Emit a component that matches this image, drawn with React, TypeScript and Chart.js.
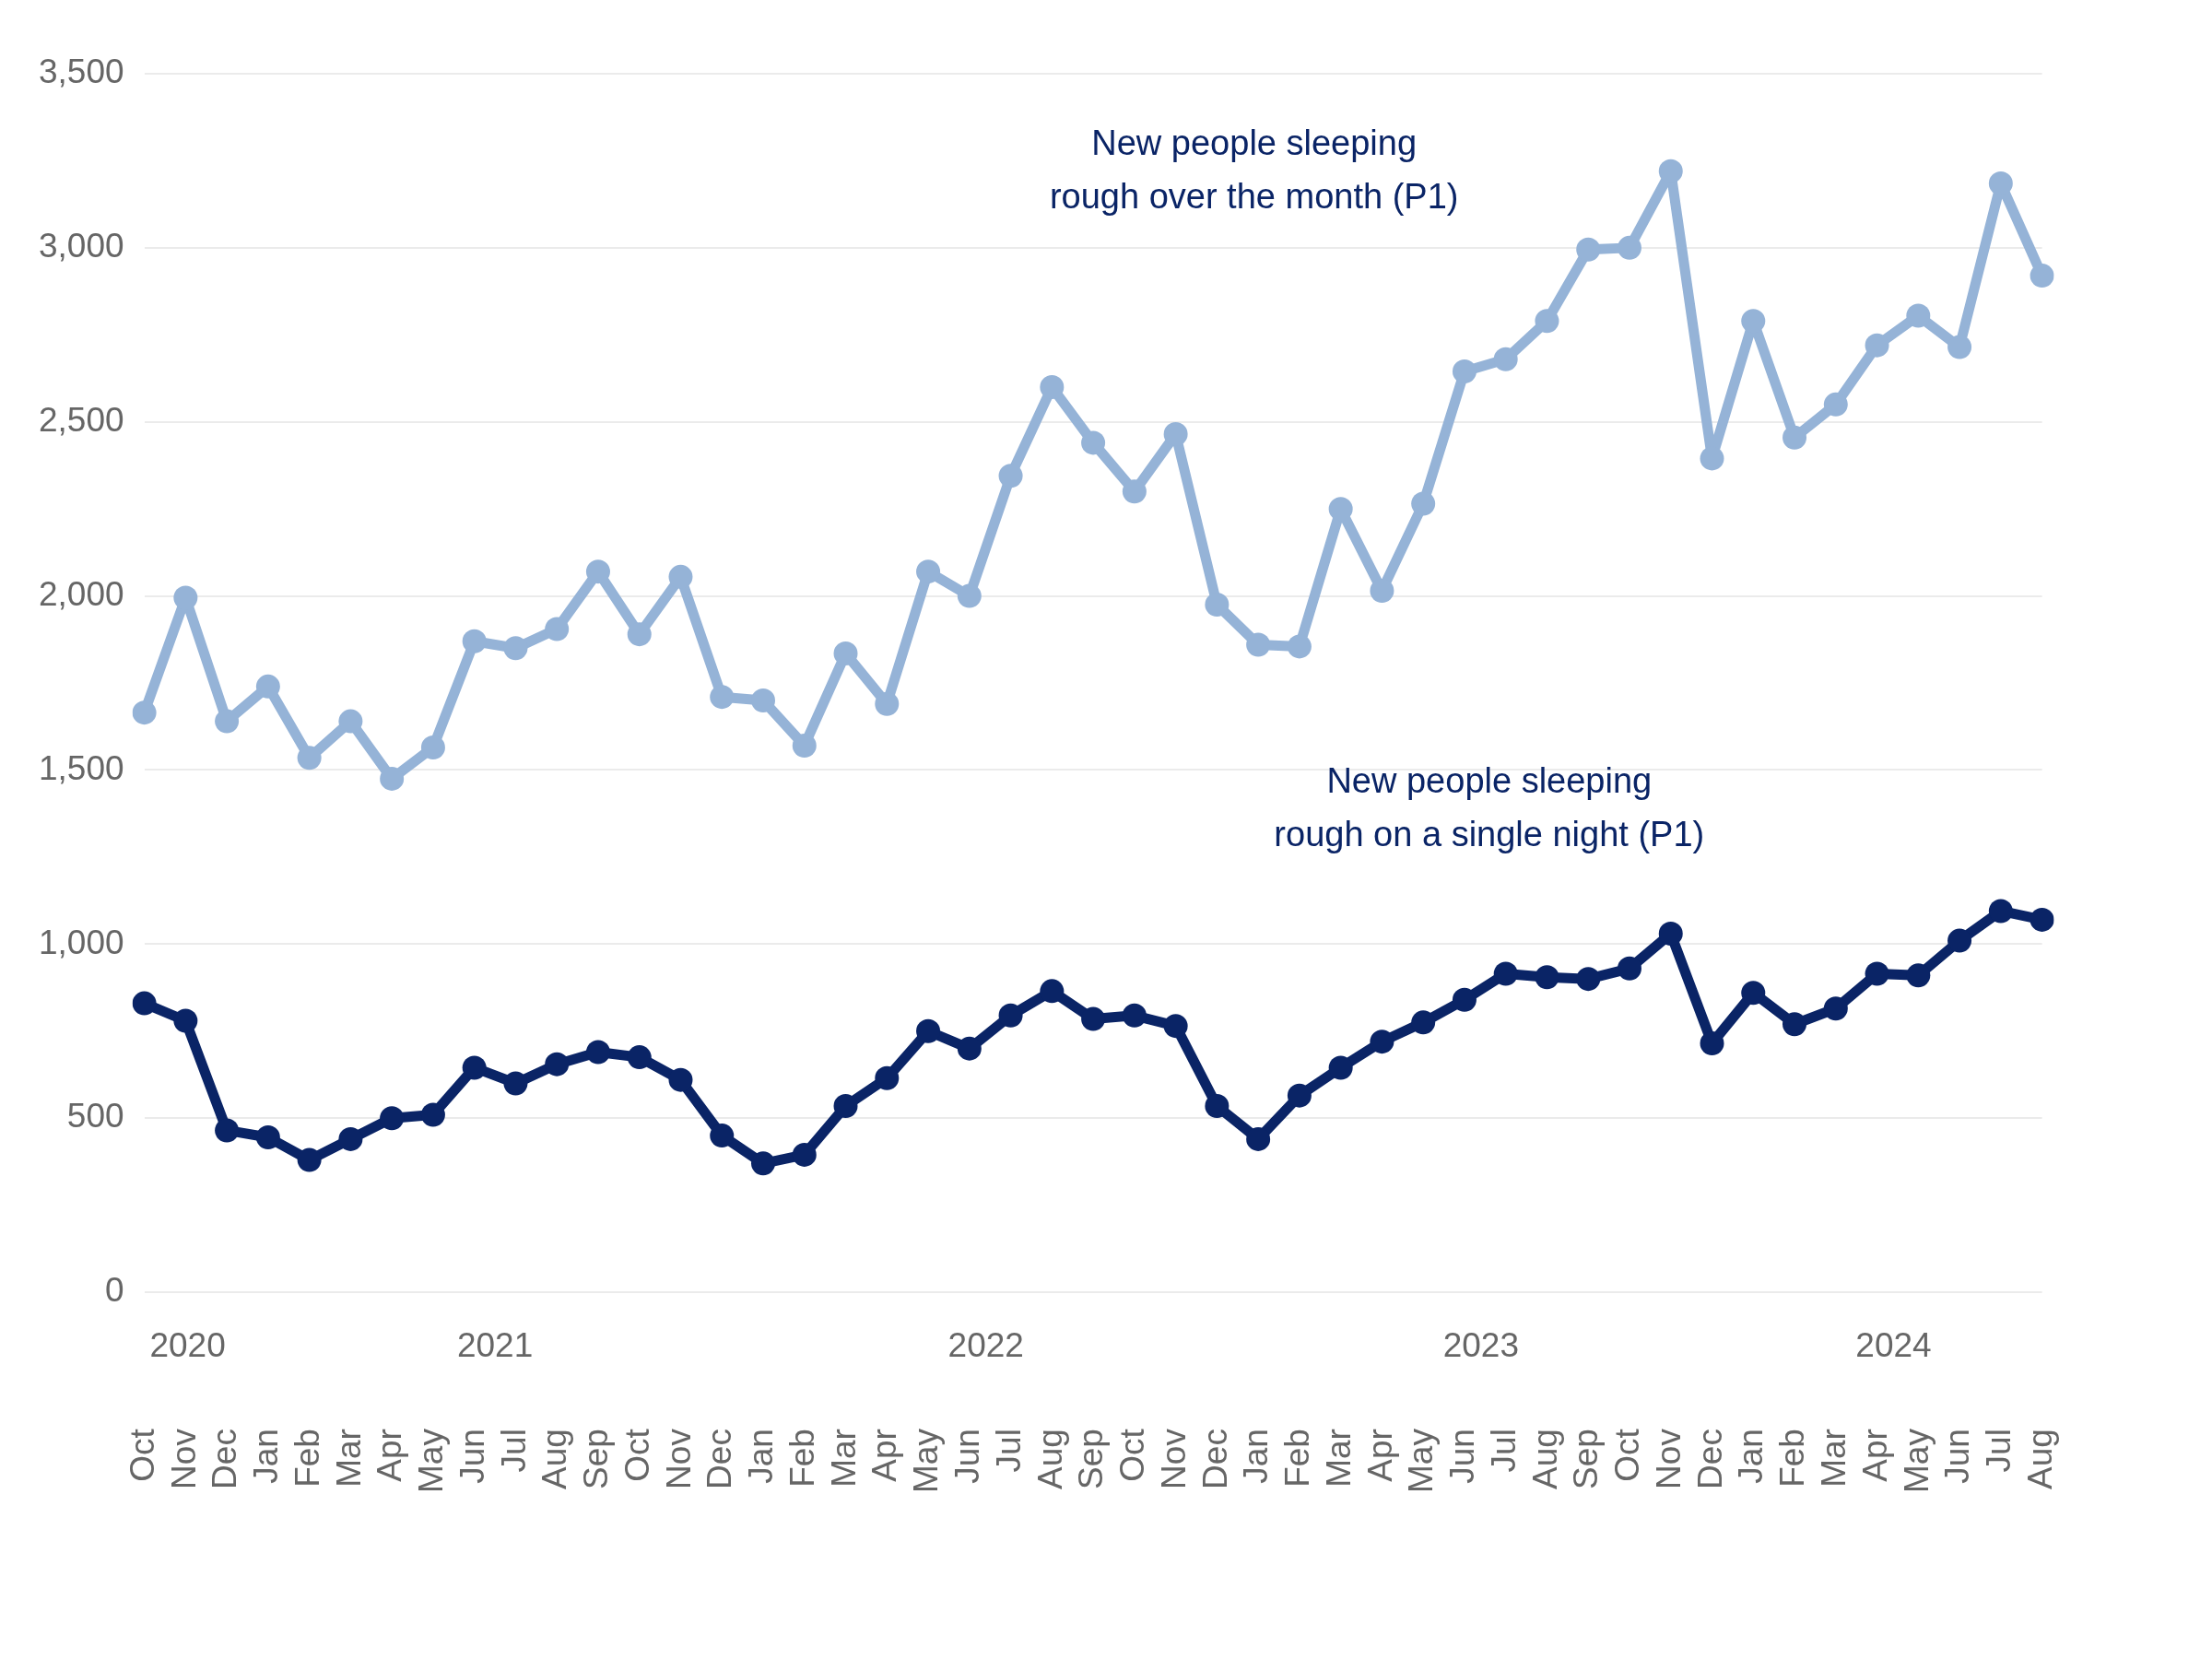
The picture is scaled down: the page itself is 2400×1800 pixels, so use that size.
import React, { useEffect, useRef } from "react";
import Chart from "chart.js/auto";

const months = [
  "Oct", "Nov", "Dec", "Jan", "Feb", "Mar", "Apr", "May", "Jun", "Jul", "Aug", "Sep",
  "Oct", "Nov", "Dec", "Jan", "Feb", "Mar", "Apr", "May", "Jun", "Jul", "Aug", "Sep",
  "Oct", "Nov", "Dec", "Jan", "Feb", "Mar", "Apr", "May", "Jun", "Jul", "Aug", "Sep",
  "Oct", "Nov", "Dec", "Jan", "Feb", "Mar", "Apr", "May", "Jun", "Jul", "Aug",
];

const overMonth = [
  1665, 1995, 1640, 1740, 1535, 1640, 1475, 1565, 1870, 1850, 1905, 2070,
  1890, 2055, 1710, 1700, 1570, 1835, 1690, 2070, 2000, 2345, 2600, 2440,
  2300, 2465, 1975, 1860, 1855, 2250, 2015, 2265, 2645, 2680, 2790, 2995,
  3000, 3220, 2395, 2790, 2455, 2550, 2720, 2805, 2715, 3185, 2920,
];

const singleNight = [
  830, 780, 465, 445, 380, 440, 500, 510, 645, 600, 655, 690,
  675, 610, 450, 370, 395, 535, 615, 750, 700, 795, 865, 785,
  795, 765, 535, 440, 565, 645, 720, 775, 840, 915, 905, 900,
  930, 1030, 715, 860, 770, 815, 915, 910, 1010, 1095, 1070,
];

// year labels sit at fractional month positions
const years = ["2020", "2021", "2022", "2023", "2024"];
const yearPos = [1.05, 8.5, 20.4, 32.4, 42.4];

const notes = [
  { lines: ["New people sleeping", "rough over the month (P1)"], x: 26.9, y: [3296, 3141] },
  { lines: ["New people sleeping", "rough on a single night (P1)"], x: 32.6, y: [1462, 1308] },
];

const LIGHT = "#95b3d7";
const DARK = "#0a2466";
const FONT = "'Liberation Sans', Arial, sans-serif";

const labelsPlugin = {
  id: "extraLabels",
  afterDraw(chart: any) {
    const { ctx, scales } = chart;
    const xs = scales.x;
    const ys = scales.y;
    ctx.save();
    ctx.textAlign = "center";
    ctx.textBaseline = "middle";
    ctx.font = `37px ${FONT}`;
    ctx.fillStyle = "#666666";
    years.forEach((y, i) => {
      ctx.fillText(y, xs.getPixelForValue(yearPos[i]), ys.bottom + 60);
    });
    ctx.font = `38px ${FONT}`;
    ctx.fillStyle = DARK;
    notes.forEach((n) => {
      n.lines.forEach((l, i) => {
        ctx.fillText(l, xs.getPixelForValue(n.x), ys.getPixelForValue(n.y[i]));
      });
    });
    ctx.restore();
  },
};

export default function App() {
  const canvasRef = useRef<HTMLCanvasElement | null>(null);

  useEffect(() => {
    document.body.style.margin = "0";
    if (!canvasRef.current) return;
    const common = {
      borderWidth: 11,
      pointRadius: 13,
      pointBorderWidth: 0,
      borderJoinStyle: "round" as const,
      borderCapStyle: "round" as const,
    };
    const chart = new Chart(canvasRef.current, {
      type: "line",
      data: {
        labels: months,
        datasets: [
          { data: overMonth, borderColor: LIGHT, backgroundColor: LIGHT, ...common },
          { data: singleNight, borderColor: DARK, backgroundColor: DARK, ...common },
        ],
      },
      options: {
        animation: false,
        responsive: true,
        maintainAspectRatio: false,
        layout: { padding: { top: 80, right: 18, left: 20, bottom: 40 } },
        plugins: { legend: { display: false }, tooltip: { enabled: false } },
        scales: {
          x: {
            offset: false,
            grid: { display: false },
            border: { display: false },
            ticks: {
              color: "#666666",
              font: { size: 37, family: FONT },
              maxRotation: 90,
              minRotation: 90,
              autoSkip: false,
              padding: 140,
            },
          },
          y: {
            min: 0,
            max: 3500,
            grid: { color: "#ebebeb", lineWidth: 2, drawTicks: false },
            border: { display: false },
            ticks: {
              stepSize: 500,
              color: "#666666",
              padding: 22,
              font: { size: 37, family: FONT },
              callback: (v: any) => Number(v).toLocaleString("en-US"),
            },
          },
        },
      },
      plugins: [labelsPlugin],
    });
    return () => chart.destroy();
  }, []);

  return (
    <div style={{ width: 2400, height: 1800, background: "#fff" }}>
      <canvas ref={canvasRef} />
    </div>
  );
}
